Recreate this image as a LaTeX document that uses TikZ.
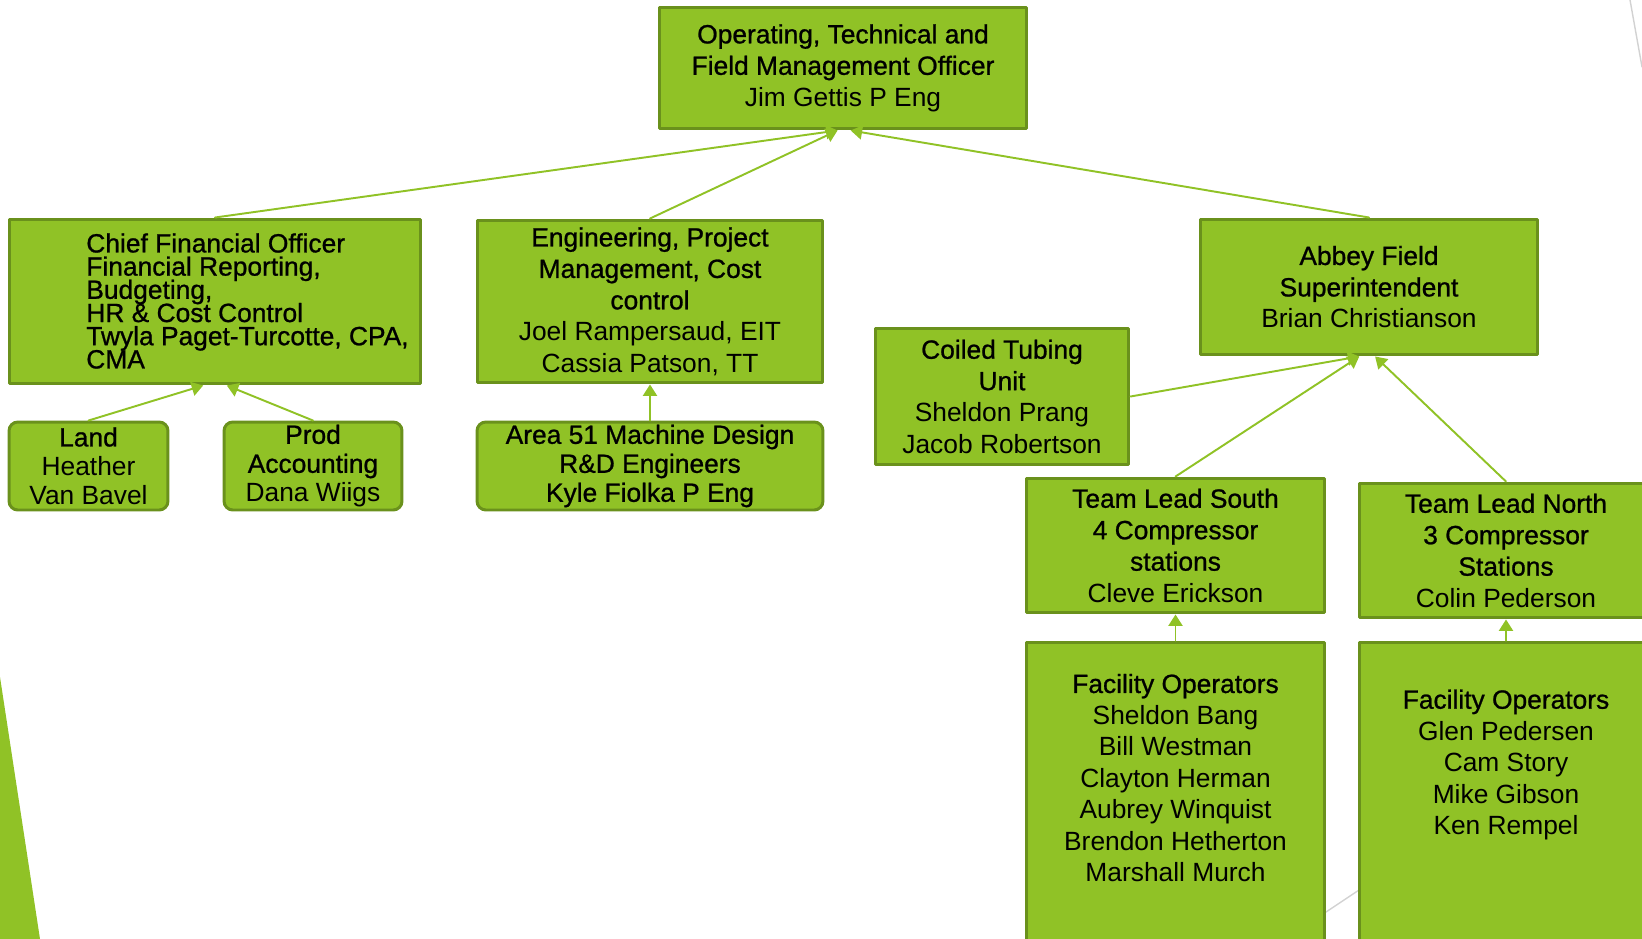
\documentclass[tikz,border=0pt]{standalone}
\usepackage{fontspec}
\setmainfont{Liberation Sans}
\newfontfamily\headfont[FakeBold=0.9]{Liberation Sans}
\usetikzlibrary{arrows.meta}
\definecolor{leaf}{RGB}{144,194,38}
\definecolor{leafdark}{RGB}{106,145,28}
\definecolor{slidegray}{RGB}{210,210,210}
\newcommand\tightlines{\lineskiplimit=-10pt\relax\lineskip=0pt\relax}

\begin{document}
\begin{tikzpicture}[x=0.02cm,y=-0.02cm,line cap=round,line join=round,>={Triangle[length=6.5pt,width=8pt]},
  box/.style={draw=leafdark,fill=leaf,line width=1.7pt,align=center,inner sep=1pt,
    font=\fontsize{15}{17.9}\selectfont},
  roundbox/.style={box,rounded corners=5pt,font=\fontsize{15}{16.5}\selectfont},
  link/.style={->,draw=leaf,line width=1.1pt}]
  \clip (0,0) rectangle (1642,939);
  % slide decoration
  \fill[leaf] (0,677) -- (40,939) -- (0,939) -- cycle;
  \draw[slidegray,line width=0.8pt] (1630,0) -- (1642,67);
  \draw[slidegray,line width=0.8pt] (1326,912) -- (1359,890);

  % top level
  \node[box,minimum width=7.36cm,minimum height=2.44cm] (otf) at (843,68)
    {\headfont Operating, Technical and\\\headfont Field Management Officer\\Jim Gettis P Eng};

  % second level
  \node[box,minimum width=8.24cm,minimum height=3.3cm] (cfo) at (215,301.5) {};
  \node[anchor=west,align=left,inner sep=0pt,
    font=\fontsize{15}{13.2}\selectfont\headfont\tightlines] (cfotext) at (86,301)
    {Chief Financial Officer\\Financial Reporting,\\Budgeting,\\HR \& Cost Control\\Twyla Paget-Turcotte, CPA,\\CMA};
  \node[box,minimum width=6.92cm,minimum height=3.26cm] (eng) at (650,301.5)
    {\headfont Engineering, Project\\\headfont Management, Cost\\\headfont control\\Joel Rampersaud, EIT\\Cassia Patson, TT};
  \node[box,minimum width=6.76cm,minimum height=2.72cm] (abbey) at (1369,287)
    {\headfont Abbey Field\\\headfont Superintendent\\Brian Christianson};

  % under finance and engineering
  \node[roundbox,minimum width=3.18cm,minimum height=1.76cm] (land) at (88.5,466)
    {\headfont Land\\Heather\\Van Bavel};
  \node[roundbox,minimum width=3.56cm,minimum height=1.76cm] (prod) at (313,466)
    {\headfont Prod\\\headfont Accounting\\Dana Wiigs};
  \node[roundbox,minimum width=6.92cm,minimum height=1.76cm,font=\fontsize{15}{16.5}\selectfont\headfont] (area) at (650,466)
    {Area 51 Machine Design\\R\&D Engineers\\Kyle Fiolka P Eng};

  % field
  \node[box,minimum width=5.08cm,minimum height=2.74cm] (ctu) at (1002,396.5)
    {\headfont Coiled Tubing\\\headfont Unit\\Sheldon Prang\\Jacob Robertson};
  \node[box,minimum width=5.98cm,minimum height=2.7cm] (south) at (1175.5,545.5)
    {\headfont Team Lead South\\\headfont 4 Compressor\\\headfont stations\\Cleve Erickson};
  \node[box,minimum width=5.88cm,minimum height=2.7cm] (north) at (1506,550.5)
    {\headfont Team Lead North\\\headfont 3 Compressor\\\headfont Stations\\Colin Pederson};
  \node[box,minimum width=5.98cm,minimum height=6.06cm] (opsouth) at (1175.5,793.5)
    {\headfont Facility Operators\\Sheldon Bang\\Bill Westman\\Clayton Herman\\Aubrey Winquist\\Brendon Hetherton\\Marshall Murch\\ \mbox{}};
  \node[box,minimum width=5.88cm,minimum height=6.06cm] (opnorth) at (1506,793.5)
    {\headfont Facility Operators\\Glen Pedersen\\Cam Story\\Mike Gibson\\Ken Rempel\\ \mbox{}\\ \mbox{}};

  % reporting lines
  \draw[link] (cfo.north) -- (otf.265);
  \draw[link] (eng.north) -- (otf.265);
  \draw[link] (abbey.north) -- (otf.277);
  \draw[link] (land.north) -- (cfo.262);
  \draw[link] (prod.north) -- (cfo.278);
  \draw[link] (area.north) -- (eng.south);
  \draw[link] (ctu.east) -- (abbey.262);
  \draw[link] (south.north) -- (abbey.262);
  \draw[link] (north.north) -- (abbey.275);
  \draw[link] (opsouth.north) -- (south.south);
  \draw[link] (opnorth.north) -- (north.south);
\end{tikzpicture}
\end{document}
